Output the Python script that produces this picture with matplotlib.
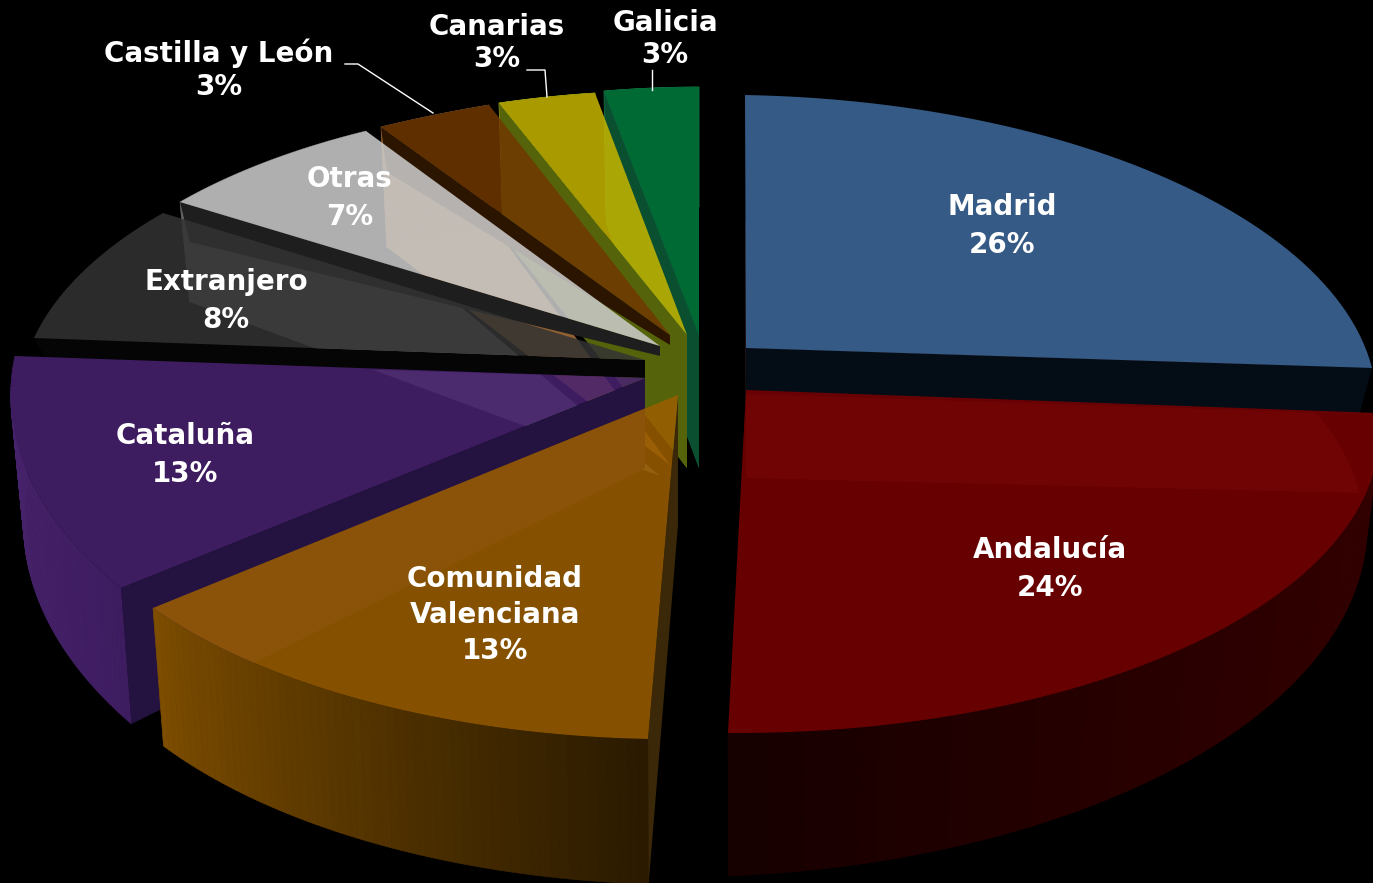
import numpy as np
import matplotlib
matplotlib.use("Agg")
import matplotlib.pyplot as plt
from matplotlib.colors import to_rgb
from matplotlib.path import Path

names = ["Madrid", "Andalucía", "Comunidad\nValenciana", "Cataluña", "Extranjero",
         "Otras", "Castilla y León", "Canarias", "Galicia"]
shares = [26, 24, 13, 13, 8, 7, 3, 3, 3]

top_colors = ["#355a85", "#680000", "#865200", "#3e1c60", "#2c2c2c", "#b0b0b0", "#603000", "#aa9c00", "#006b35"]
body_colors = ["#402020", None, None, None, None, "#666666", "#906030", "#c8d820", "#20a060"]
strip_colors = ["#040c16", None, "#3a2808", "#241240", "#050505", "#1e1e1e", "#2c1500", "#55640a", "#0a5030"]
wall_left = [None, "#160000", "#7e4e00", "#46226a", None, "#666666", "#906030", "#c8d820", "#20a060"]
wall_right = [None, "#320000", "#2a1a00", "#3e1c60", None, "#666666", "#906030", "#c8d820", "#20a060"]
face_alpha = [1.0, 0.86, 0.86, 0.86, 0.86, 0.86, 0.86, 0.86, 0.86]

# layout in picture pixels, one entry per slice
apex = [(746, 348), (746, 390), (678, 395), (645, 378), (645, 360), (660, 346), (670, 335), (687, 335), (699, 335)]
rim_a = [(745, 95), (1378, 413), (648, 739), (121, 588), (34, 338), (180, 202), (381, 127), (499, 103), (604, 91)]
rim_b = [(1372, 368), (728, 733), (153, 608), (15, 356), (163, 213), (366, 131), (489, 105), (595, 93), (699, 87)]
bulge = [0.95, 1.0, 1.0, 0.7, 1.0, 1.0, 1.0, 1.0, 1.0]
depth_a = [125, 92, 145, 136, 25, 100, 120, 120, 120]
depth_b = [125, 143, 138, 125, 25, 100, 120, 120, 120]
apex_depth = [130, 130, 130, 90, 25, 130, 130, 133, 133]
strip_depth = [46, 0, 145, 136, 22, 40, 45, 133, 133]
strip_apex = [46, 0, 130, 90, 18, 10, 10, 133, 133]
draw_order = [8, 7, 6, 5, 4, 3, 2, 0, 1]

label_xy = [(1002, 226), (1050, 569), (495, 615), (185, 455), (226, 301), (350, 198), (219, 70), (497, 43), (665, 39)]
line_gap = [1.41, 1.41, 1.38, 1.41, 1.41, 1.41, 1.22, 1.22, 1.22]
leaders = [([345, 358, 433], [64, 64, 113]), ([527, 545, 547], [70, 70, 97]), ([652, 652], [70, 90])]

PERSP = 0.152
SHRINK = 0.02


def rim_points(i, ta, tb, n=60):
    # unit circle to picture, a small perspective and the two known rim ends fix it
    a, b = np.radians(ta), np.radians(tb)
    m = np.array([[np.cos(a), np.sin(a)], [np.cos(b), np.sin(b)]])
    pa = (np.array(rim_a[i]) - apex[i]) * (1 + PERSP * np.sin(a))
    pb = (np.array(rim_b[i]) - apex[i]) * (1 + PERSP * np.sin(b))
    coef = np.linalg.solve(m, np.array([pa, pb]))
    t = np.linspace(a, b, n)
    u = np.cos(t)[:, None]
    v = np.sin(t)[:, None]
    arc = np.array(apex[i]) + (u * coef[0] + v * coef[1]) / (1 + PERSP * v)
    chord = np.linspace(arc[0], arc[-1], n)
    return chord + bulge[i] * (arc - chord)


def lower(i, pts):
    d = np.linspace(depth_a[i], depth_b[i], len(pts))
    out = pts.copy().astype(float)
    out[:, 0] += (apex[i][0] - out[:, 0]) * SHRINK
    out[:, 1] += d
    return out


def mix(c1, c2, f):
    return tuple((1 - f) * np.array(to_rgb(c1)) + f * np.array(to_rgb(c2)))


def outside_of(poly):
    # the whole picture with a hole where poly is, so a slice's body does not tint its own top
    x, y = poly[:, 0], poly[:, 1]
    area = np.sum(x * np.roll(y, -1) - np.roll(x, -1) * y)
    if area > 0:
        poly = poly[::-1]
    frame = [(-50, -50), (1500, -50), (1500, 1000), (-50, 1000), (-50, -50)]
    verts = frame + [tuple(p) for p in poly] + [tuple(poly[0])]
    codes = [Path.MOVETO] + [Path.LINETO] * 3 + [Path.CLOSEPOLY] + [Path.MOVETO] + [Path.LINETO] * (len(poly) - 1) + [Path.CLOSEPOLY]
    return Path(verts, codes)


fig = plt.figure(figsize=(13.73, 8.83), dpi=100, facecolor="black")
ax = fig.add_axes([0, 0, 1, 1])
ax.set_xlim(0, 1373)
ax.set_ylim(883, 0)
ax.axis("off")

cum = np.cumsum([0] + shares)
for i in draw_order:
    ta = 90 - 3.6 * cum[i]
    tb = 90 - 3.6 * cum[i + 1]
    top = rim_points(i, ta, tb)
    bot = lower(i, top)
    ax0, ay0 = apex[i]
    face = np.vstack([[ax0, ay0], top])
    hole = outside_of(face)

    # body under the slice, it shows through the slices drawn later
    if body_colors[i] is not None:
        xs = np.r_[ax0, bot[:, 0]]
        ys = np.r_[ay0 + apex_depth[i], bot[:, 1]]
        for p in ax.fill(xs, ys, color=body_colors[i], lw=0):
            p.set_clip_path(hole, ax.transData)

    # outer wall in strips, left to right
    if wall_left[i] is not None:
        for j in range(len(top) - 1):
            q = np.array([top[j], top[j + 1], bot[j + 1], bot[j]])
            f = (0.5 * (q[0, 0] + q[1, 0]) - top[:, 0].min()) / max(np.ptp(top[:, 0]), 1)
            if i == 2:
                f = f ** 0.8
            for p in ax.fill(q[:, 0], q[:, 1], color=mix(wall_left[i], wall_right[i], f), lw=0.5):
                p.set_clip_path(hole, ax.transData)

    # cut side of the slice
    if strip_colors[i] is not None:
        k = -1 if i == 0 else 0
        r = top[k]
        rb = bot[k]
        xq = [ax0, r[0], rb[0], ax0]
        yq = [ay0, r[1], r[1] + strip_depth[i], ay0 + strip_apex[i]]
        ax.fill(xq, yq, color=strip_colors[i], lw=0)

    # top face, colour divided by alpha so that over black it gives the read colour
    al = face_alpha[i]
    c = np.clip(np.array(to_rgb(top_colors[i])) / al, 0, 1)
    ax.fill(face[:, 0], face[:, 1], color=c, alpha=al, lw=0)

for lx, ly in leaders:
    ax.plot(lx, ly, color="white", lw=1)

for i, name in enumerate(names):
    ax.text(label_xy[i][0], label_xy[i][1], f"{name}\n{shares[i]}%", color="white", fontsize=20,
            fontweight="bold", family="DejaVu Sans", ha="center", va="center", linespacing=line_gap[i])

fig.savefig("out.png", dpi=100, facecolor="black")
